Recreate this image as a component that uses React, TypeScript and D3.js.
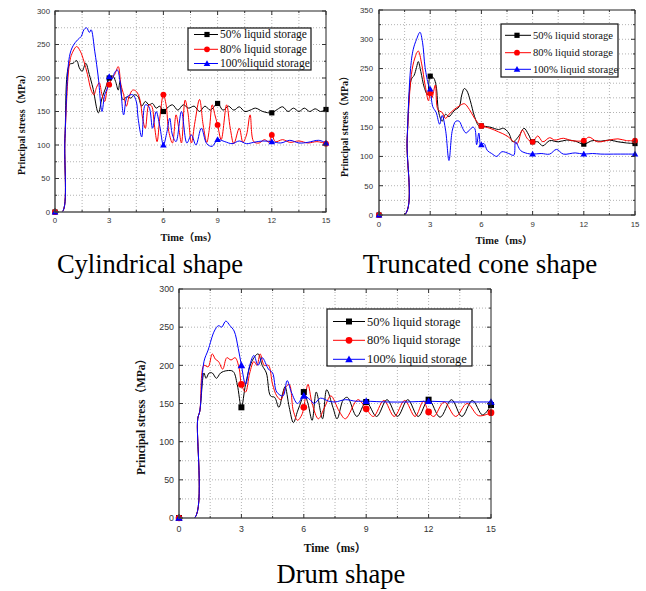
import * as React from 'react';
import * as d3 from 'd3';

type Pt = [number, number];

// ---- data (time in ms, stress in MPa) ----
const seriesNames = ['50% liquid storage', '80% liquid storage', '100% liquid storage'];
const seriesNamesCyl = ['50% liquid storage', '80% liquid storage', '100%liquid storage'];
const markTimes = [0, 3, 6, 9, 12, 15];
const xTicks = [0, 3, 6, 9, 12, 15];

const cyl50: Pt[] = [[0,0],[0.4,0],[0.55,110],[0.8,220],[1.0,222],[1.2,226],[1.35,215],[1.5,210],[1.7,222],[1.9,205],[2.1,185],[2.4,148],[2.6,170],[2.8,185],[3.0,200],[3.2,203],[3.35,195],[3.5,182],[3.6,195],[3.75,168],[4.0,172],[4.2,170],[4.4,175],[4.6,172],[4.8,158],[5.0,165],[5.2,160],[5.4,162],[5.6,155],[5.8,158],[6.0,150],[6.2,155],[6.5,160],[6.8,152],[7.1,160],[7.4,155],[7.7,158],[8.0,150],[8.3,158],[8.6,152],[9.0,162],[9.3,152],[9.6,158],[9.9,152],[10.2,157],[10.5,150],[10.8,152],[11.1,155],[11.5,150],[12.0,148],[12.3,153],[12.6,157],[12.9,150],[13.2,155],[13.5,150],[13.8,155],[14.1,150],[14.4,154],[14.7,150],[15,153]];
const cyl80: Pt[] = [[0,0],[0.4,0],[0.55,110],[0.8,222],[0.95,237],[1.2,247],[1.4,240],[1.6,225],[1.8,205],[2.0,182],[2.15,175],[2.3,186],[2.45,193],[2.6,175],[2.75,165],[2.9,185],[3.0,190],[3.15,200],[3.3,205],[3.5,217],[3.65,190],[3.8,175],[3.95,158],[4.1,172],[4.3,182],[4.5,180],[4.7,168],[4.85,140],[5.0,125],[5.2,160],[5.35,158],[5.5,130],[5.65,105],[5.8,140],[6.0,175],[6.15,160],[6.3,120],[6.5,103],[6.7,145],[6.85,125],[7.0,103],[7.2,167],[7.35,150],[7.55,103],[7.75,135],[8.0,168],[8.2,130],[8.4,104],[8.55,125],[8.7,160],[8.85,145],[9.0,130],[9.2,108],[9.5,160],[9.7,125],[9.9,102],[10.2,125],[10.4,104],[10.6,115],[10.8,145],[11.0,105],[11.3,103],[11.6,108],[11.85,104],[12.0,115],[12.2,105],[12.6,108],[13.0,104],[13.5,106],[14.0,103],[14.5,105],[15,102]];
const cyl100: Pt[] = [[0,0],[0.4,0],[0.55,110],[0.8,232],[1.0,248],[1.25,257],[1.45,262],[1.6,272],[1.75,275],[1.9,268],[2.0,272],[2.2,240],[2.4,200],[2.6,150],[2.75,175],[2.9,185],[3.0,202],[3.15,198],[3.3,208],[3.45,212],[3.6,195],[3.8,145],[4.0,172],[4.3,175],[4.5,165],[4.6,140],[4.8,112],[5.0,160],[5.2,157],[5.4,125],[5.6,150],[5.8,128],[6.0,100],[6.2,120],[6.35,140],[6.5,115],[6.7,105],[7.0,150],[7.3,103],[7.55,115],[7.8,100],[8.1,125],[8.4,102],[8.7,98],[9.0,108],[9.4,105],[9.8,102],[10.2,106],[10.6,102],[11.0,104],[11.5,106],[12.0,105],[12.5,103],[13.0,107],[13.5,103],[14.0,104],[14.6,107],[15,103]];

const cone50: Pt[] = [[0,0],[1.5,0],[1.65,130],[1.9,232],[2.05,238],[2.2,252],[2.3,262],[2.45,245],[2.65,218],[2.85,205],[3.0,237],[3.2,234],[3.35,220],[3.5,175],[3.7,160],[3.9,172],[4.1,168],[4.4,178],[4.7,185],[4.85,205],[5.0,216],[5.15,212],[5.35,195],[5.6,168],[5.85,152],[6.0,152],[6.5,150],[7.0,146],[7.3,148],[7.6,140],[7.85,125],[8.2,135],[8.5,148],[8.75,138],[9.0,125],[9.3,125],[9.6,118],[10.0,127],[10.5,125],[11.0,128],[11.5,126],[12.0,121],[12.5,127],[13.0,126],[13.5,128],[14.0,125],[14.5,123],[15,122]];
const cone80: Pt[] = [[0,0],[1.5,0],[1.65,130],[1.9,240],[2.1,268],[2.3,280],[2.5,258],[2.7,222],[2.9,195],[3.0,208],[3.1,200],[3.3,222],[3.45,180],[3.7,175],[3.9,165],[4.1,172],[4.4,180],[4.7,186],[5.0,190],[5.3,180],[5.6,165],[5.9,154],[6.0,152],[6.5,148],[7.0,142],[7.5,135],[7.9,125],[8.1,122],[8.4,145],[8.7,130],[9.0,125],[9.3,135],[9.6,125],[10.0,132],[10.3,128],[10.8,131],[11.3,127],[12.0,127],[12.3,133],[12.8,125],[13.5,128],[14.0,130],[14.5,127],[15,127]];
const cone100: Pt[] = [[0,0],[1.5,0],[1.65,130],[1.85,250],[2.0,282],[2.2,300],[2.4,312],[2.55,295],[2.7,252],[2.9,222],[3.0,215],[3.15,185],[3.35,175],[3.55,155],[3.7,170],[3.9,145],[4.1,93],[4.3,145],[4.5,160],[4.7,160],[4.9,148],[5.1,140],[5.3,145],[5.5,150],[5.62,147],[5.72,120],[5.85,140],[5.95,118],[6.0,120],[6.15,122],[6.35,110],[6.6,105],[6.9,100],[7.2,108],[7.6,105],[7.9,102],[8.0,125],[8.3,110],[8.7,105],[9.0,104],[9.5,105],[10.0,104],[10.4,112],[10.8,104],[11.5,106],[12.0,104],[12.5,105],[13.0,104],[14.0,104],[15,104]];

const drum50: Pt[] = [[0,0],[0.75,0],[0.9,130],[1.0,140],[1.2,190],[1.3,183],[1.45,190],[1.6,190],[1.8,183],[2.0,190],[2.3,193],[2.6,192],[2.8,175],[3.0,145],[3.2,175],[3.5,205],[3.8,215],[4.0,200],[4.2,190],[4.4,160],[4.6,158],[4.8,145],[5.0,165],[5.1,172],[5.3,145],[5.5,125],[5.7,140],[5.9,155],[6.0,165],[6.2,150],[6.4,128],[6.6,165],[6.9,130],[7.1,168],[7.4,145],[7.6,130],[7.9,155],[8.1,158],[8.55,133],[9.0,152],[9.5,133],[10.0,155],[10.5,133],[11.0,155],[11.5,133],[12.0,155],[12.55,132],[13.1,155],[13.6,133],[14.1,154],[14.6,135],[15,148]];
const drum80: Pt[] = [[0,0],[0.75,0],[0.9,130],[1.0,140],[1.2,200],[1.4,198],[1.6,215],[1.75,208],[1.9,205],[2.1,195],[2.3,210],[2.5,207],[2.7,210],[2.9,195],[3.0,175],[3.2,165],[3.4,190],[3.6,205],[3.75,200],[3.9,215],[4.1,200],[4.3,200],[4.5,175],[4.7,160],[4.9,155],[5.1,170],[5.3,175],[5.5,140],[5.7,128],[5.9,135],[6.0,145],[6.2,175],[6.4,150],[6.7,130],[7.0,145],[7.3,160],[7.7,140],[8.0,130],[8.6,155],[9.0,143],[9.35,133],[9.85,154],[10.35,133],[10.85,154],[11.35,133],[11.75,153],[12.0,139],[12.25,133],[12.75,152],[13.3,133],[13.85,150],[14.4,134],[15,138]];
const drum100: Pt[] = [[0,0],[0.75,0],[0.9,130],[1.0,140],[1.2,205],[1.4,220],[1.7,245],[1.9,252],[2.05,250],[2.25,258],[2.45,252],[2.65,245],[2.85,222],[3.0,200],[3.2,175],[3.4,200],[3.6,213],[3.8,200],[4.0,210],[4.3,195],[4.5,190],[4.7,165],[5.0,160],[5.2,180],[5.4,165],[5.7,150],[6.0,160],[6.3,155],[6.5,150],[6.8,157],[7.2,153],[7.5,152],[8.0,155],[8.5,153],[9.0,153],[10.0,152],[11.0,152],[12.0,153],[13.0,152],[14.0,152],[15,152]];

const colors = ['#000000', '#ff0000', '#0000ff'];
const shapes = ['square', 'circle', 'triangle'];

const panels = [
  {
    id: 'cyl', x0: 55, x1: 326, y0: 11, y1: 212, yMax: 300, series: [cyl50, cyl80, cyl100], names: seriesNamesCyl,
    tickFont: 7.8, yLabelRight: 50, xLabelY: 223, ms: 1,
    yTitle: { x: 25, y: 122, size: 10 }, xTitle: { x: 189, y: 241, size: 10.5 },
    legend: { x0: 188, y0: 28, x1: 311, y1: 70, rows: [34.5, 49.3, 63.5], l0: 194, l1: 218, mk: 207, tx: 220, size: 11.5 },
    caption: { text: 'Cylindrical shape', x: 150, y: 273, size: 26.5 },
  },
  {
    id: 'cone', x0: 379, x1: 635, y0: 10, y1: 215, yMax: 350, series: [cone50, cone80, cone100], names: seriesNames,
    tickFont: 7.8, yLabelRight: 373, xLabelY: 227, ms: 1,
    yTitle: { x: 348, y: 124, size: 10 }, xTitle: { x: 504, y: 244, size: 10.5 },
    legend: { x0: 501, y0: 24, x1: 618, y1: 77, rows: [35.3, 52.7, 69.3], l0: 505, l1: 531, mk: 517, tx: 533, size: 10.6 },
    caption: { text: 'Truncated cone shape', x: 480, y: 273, size: 27 },
  },
  {
    id: 'drum', x0: 179, x1: 491, y0: 289, y1: 518, yMax: 300, series: [drum50, drum80, drum100], names: seriesNames,
    tickFont: 8.8, yLabelRight: 174, xLabelY: 532, ms: 1.15,
    yTitle: { x: 145, y: 414, size: 11.5 }, xTitle: { x: 335, y: 552, size: 11.5 },
    legend: { x0: 327, y0: 309, x1: 472, y1: 366, rows: [321.5, 340.3, 359.3], l0: 333, l1: 365, mk: 349, tx: 367, size: 12.4 },
    caption: { text: 'Drum shape', x: 341, y: 583, size: 26.5 },
  },
];

const sansFont = '"Liberation Sans", Arial, sans-serif';
const serifFont = '"Liberation Serif", "Times New Roman", "Noto Sans CJK SC", serif';

function Marker({ shape, x, y, color, s }: { shape: string; x: number; y: number; color: string; s: number }) {
  if (shape === 'square') return <rect x={x - 2.6 * s} y={y - 2.6 * s} width={5.2 * s} height={5.2 * s} fill={color} />;
  if (shape === 'circle') return <circle cx={x} cy={y} r={2.9 * s} fill={color} />;
  const h = 3.3 * s;
  return <path d={`M${x},${y - h}L${x + h},${y + h * 0.75}L${x - h},${y + h * 0.75}Z`} fill={color} />;
}

function Panel({ p }: { p: any }) {
  const x = d3.scaleLinear().domain([0, 15]).range([p.x0, p.x1]);
  const y = d3.scaleLinear().domain([0, p.yMax]).range([p.y1, p.y0]);
  const line = d3.line<Pt>().x(d => x(d[0])).y(d => y(d[1])).curve(d3.curveCatmullRom.alpha(0.5));
  const yTicks = d3.range(0, p.yMax + 1, 50);
  const yMinor = d3.range(25, p.yMax, 50);
  const xMinor = d3.range(1.5, 15, 3);
  const clipId = 'clip-' + p.id;

  return (
    <g>
      <defs>
        <clipPath id={clipId}>
          <rect x={p.x0} y={p.y0 - 1} width={p.x1 - p.x0} height={p.y1 - p.y0 + 1} />
        </clipPath>
      </defs>
      {/* grid */}
      {xTicks.slice(1, -1).concat(xMinor).map(t => (
        <line key={'gx' + t} x1={x(t)} x2={x(t)} y1={p.y0} y2={p.y1} stroke="#a0a0a0" strokeWidth={0.8} strokeDasharray="1,2" />
      ))}
      {yTicks.slice(1, -1).concat(yMinor).map(v => (
        <line key={'gy' + v} x1={p.x0} x2={p.x1} y1={y(v)} y2={y(v)} stroke="#a0a0a0" strokeWidth={0.8} strokeDasharray="1,2" />
      ))}
      {/* series */}
      <g clipPath={`url(#${clipId})`}>
        {p.series.map((s: Pt[], i: number) => (
          <path key={'s' + i} d={line(s) || ''} fill="none" stroke={colors[i]} strokeWidth={1} />
        ))}
      </g>
      {p.series.map((s: Pt[], i: number) =>
        s.filter(d => markTimes.includes(d[0])).map(d => (
          <Marker key={'m' + i + '-' + d[0]} shape={shapes[i]} x={x(d[0])} y={y(d[1])} color={colors[i]} s={p.ms} />
        ))
      )}
      {/* frame */}
      <line x1={p.x0} x2={p.x1} y1={p.y0} y2={p.y0} stroke="#222" strokeWidth={1} />
      <line x1={p.x1} x2={p.x1} y1={p.y0} y2={p.y1} stroke="#222" strokeWidth={1} />
      <line x1={p.x0} x2={p.x0} y1={p.y0 - 0.5} y2={p.y1 + 0.5} stroke="#555" strokeWidth={1.6} />
      <line x1={p.x0 - 0.5} x2={p.x1 + 0.5} y1={p.y1} y2={p.y1} stroke="#555" strokeWidth={1.6} />
      {/* ticks */}
      {xTicks.map(t => (
        <g key={'tx' + t}>
          <line x1={x(t)} x2={x(t)} y1={p.y1} y2={p.y1 - 4} stroke="#333" strokeWidth={1} />
          <line x1={x(t)} x2={x(t)} y1={p.y0} y2={p.y0 + 4} stroke="#333" strokeWidth={1} />
          <text x={x(t)} y={p.xLabelY} textAnchor="middle" fontFamily={sansFont} fontSize={p.tickFont} fill="#333">{t}</text>
        </g>
      ))}
      {xMinor.map(t => (
        <g key={'tmx' + t}>
          <line x1={x(t)} x2={x(t)} y1={p.y1} y2={p.y1 - 2} stroke="#333" strokeWidth={1} />
          <line x1={x(t)} x2={x(t)} y1={p.y0} y2={p.y0 + 2} stroke="#333" strokeWidth={1} />
        </g>
      ))}
      {yTicks.map(v => (
        <g key={'ty' + v}>
          <line x1={p.x0} x2={p.x0 + 4} y1={y(v)} y2={y(v)} stroke="#333" strokeWidth={1} />
          <line x1={p.x1} x2={p.x1 - 4} y1={y(v)} y2={y(v)} stroke="#333" strokeWidth={1} />
          <text x={p.yLabelRight} y={y(v) + p.tickFont * 0.36} textAnchor="end" fontFamily={sansFont} fontSize={p.tickFont} fill="#333">{v}</text>
        </g>
      ))}
      {yMinor.map(v => (
        <g key={'tmy' + v}>
          <line x1={p.x0} x2={p.x0 + 2} y1={y(v)} y2={y(v)} stroke="#333" strokeWidth={1} />
          <line x1={p.x1} x2={p.x1 - 2} y1={y(v)} y2={y(v)} stroke="#333" strokeWidth={1} />
        </g>
      ))}
      {/* axis titles */}
      <text transform={`translate(${p.yTitle.x},${p.yTitle.y}) rotate(-90)`} textAnchor="middle" fontFamily={serifFont} fontWeight="bold" fontSize={p.yTitle.size} fill="#111">Principal stress（MPa）</text>
      <text x={p.xTitle.x} y={p.xTitle.y} textAnchor="middle" fontFamily={serifFont} fontWeight="bold" fontSize={p.xTitle.size} fill="#111">Time（ms）</text>
      {/* legend */}
      <rect x={p.legend.x0} y={p.legend.y0} width={p.legend.x1 - p.legend.x0} height={p.legend.y1 - p.legend.y0} fill="white" stroke="#111" strokeWidth={1.2} />
      {p.names.map((n: string, i: number) => {
        const ry = p.legend.rows[i];
        return (
          <g key={'lg' + i}>
            <line x1={p.legend.l0} x2={p.legend.l1} y1={ry} y2={ry} stroke={colors[i]} strokeWidth={1} />
            <Marker shape={shapes[i]} x={p.legend.mk} y={ry} color={colors[i]} s={p.ms} />
            <text x={p.legend.tx} y={ry + p.legend.size * 0.33} fontFamily={serifFont} fontSize={p.legend.size} fill="#111">{n}</text>
          </g>
        );
      })}
      {/* caption */}
      <text x={p.caption.x} y={p.caption.y} textAnchor="middle" fontFamily={serifFont} fontSize={p.caption.size} fill="#000">{p.caption.text}</text>
    </g>
  );
}

export default function App() {
  return (
    <svg width={646} height={591} style={{ position: 'absolute', left: 0, top: 0, background: 'white' }}>
      <rect width={646} height={591} fill="white" />
      {panels.map(p => <Panel key={p.id} p={p} />)}
    </svg>
  );
}
